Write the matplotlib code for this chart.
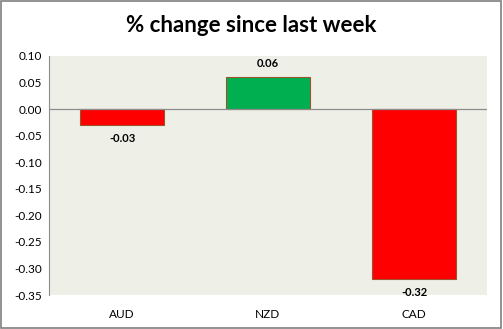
import matplotlib.pyplot as plt
from matplotlib.patches import Rectangle

currencies = ['AUD', 'NZD', 'CAD']
changes = [-0.03, 0.06, -0.32]
yticks = [0.10, 0.05, 0.00, -0.05, -0.10, -0.15, -0.20, -0.25, -0.30, -0.35]

plt.rcParams['font.family'] = ['Lato', 'DejaVu Sans']

fig = plt.figure(figsize=(5.03, 3.29), dpi=100)
W, H = 503, 329
ax = fig.add_axes([49 / W, 1 - 295 / H, 438 / W, 239 / H])
ax.set_facecolor('#eef0e8')

colors = ['#00b050' if v > 0 else '#ff0000' for v in changes]
x = range(len(currencies))
bars = ax.bar(x, changes, width=0.57, color=colors, edgecolor='#a0522d', linewidth=0.8, zorder=2)

for i, v in enumerate(changes):
    off = 6 if v > 0 else -6
    ax.annotate(f'{v:.2f}', (i, v), xytext=(0, off), textcoords='offset points',
                ha='center', va='bottom' if v > 0 else 'top',
                fontsize=8, fontweight='bold')

ax.axhline(0, color='#8c8c8c', linewidth=0.9, zorder=3)
ax.set_xlim(-0.5, 2.5)
ax.set_ylim(-0.35, 0.10)
ax.set_yticks(yticks)
ax.set_yticklabels([f'{t:.2f}' for t in yticks], fontsize=8.5)
ax.set_xticks(list(x))
ax.set_xticklabels(currencies, fontsize=8.5)
ax.tick_params(length=0, pad=5)
ax.tick_params(axis='x', pad=10)
for s in ['top', 'right', 'bottom']:
    ax.spines[s].set_visible(False)
ax.spines['left'].set_color('#8c8c8c')

fig.text(0.5, 1 - 25 / H, '% change since last week', ha='center', va='center',
         fontsize=16, fontweight='bold')
fig.patches.append(Rectangle((0.002, 0.003), 0.995, 0.994, transform=fig.transFigure,
                             fill=False, edgecolor='#7f7f7f', linewidth=1.2))

fig.savefig('out.png', dpi=100)
